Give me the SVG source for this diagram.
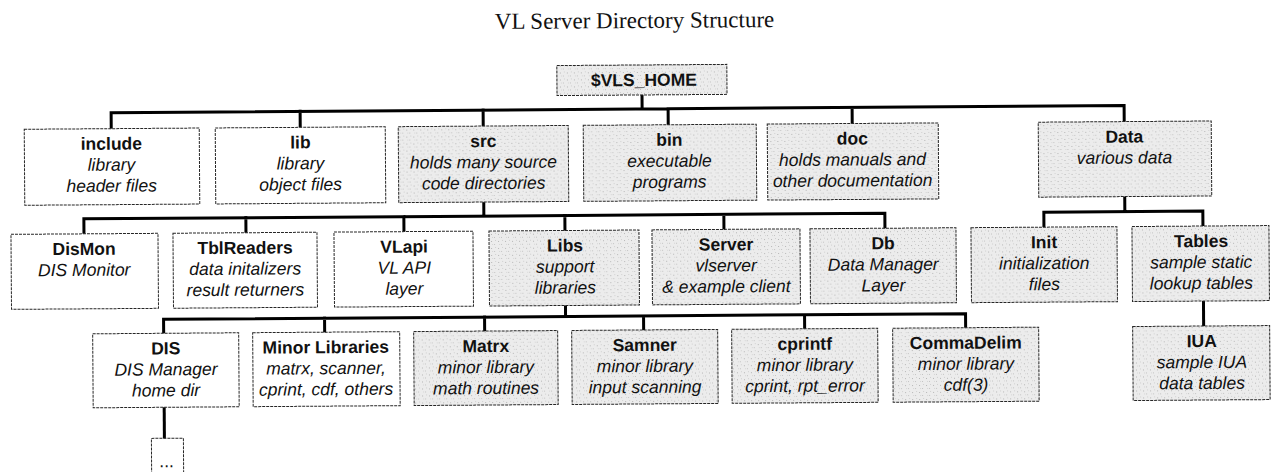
<svg xmlns="http://www.w3.org/2000/svg" width="1273" height="472" viewBox="0 0 1273 472">
  <defs>
    <!-- halftone-like stipple for the shaded directories -->
    <pattern id="stipple" width="7" height="7" patternUnits="userSpaceOnUse">
      <rect width="7" height="7" fill="#ececec"/>
      <rect x="1" y="2" width="1" height="1" fill="#b5b5b5"/>
      <rect x="4" y="5" width="1" height="1" fill="#c2c2c2"/>
      <rect x="5" y="1" width="1" height="1" fill="#cfcfcf"/>
      <rect x="2" y="5" width="1" height="1" fill="#d5d5d5"/>
    </pattern>
    <style>
      .title { font-family: "Liberation Serif", "Times New Roman", serif; font-size: 23px; fill: #111; }
      .box { stroke: #262626; stroke-width: 1; stroke-dasharray: 3 1; }
      .plain { fill: #ffffff; }
      .shade { fill: url(#stipple); }
      .name { font-family: "Liberation Sans", Arial, sans-serif; font-weight: bold; font-size: 17.5px; fill: #111; text-anchor: middle; }
      .desc { font-family: "Liberation Sans", Arial, sans-serif; font-style: italic; font-size: 17.5px; fill: #111; text-anchor: middle; }
      .wire { fill: none; stroke: #000; stroke-width: 3; stroke-linejoin: miter; stroke-linecap: square; }
    </style>
  </defs>

  <rect width="1273" height="472" fill="#ffffff"/>

  <g transform="rotate(-0.4 636 236)">
    <text class="title" x="636" y="28" text-anchor="middle">VL Server Directory Structure</text>

    <!-- tree connectors -->
    <g id="connectors">
      <path class="wire" d="M643 95 V109 M112 125 V109 H1125 V125 M301 109 V125 M484 109 V125 M669 109 V125 M853 109 V125"/>
      <path class="wire" d="M484 201 V215 M84 230 V215 H885 V230 M246 215 V230 M404 215 V230 M565 215 V230 M724 215 V230"/>
      <path class="wire" d="M1125 200 V215 M1044 230 V215 H1203 V230"/>
      <path class="wire" d="M565 305 V316 M163 330 V316 H965 V330 M324 316 V330 M484 316 V330 M643 316 V330 M804 316 V330"/>
      <path class="wire" d="M1203 305 V330"/>
      <path class="wire" d="M163 404 V435"/>
    </g>

    <g id="vls_home">
      <rect class="box shade" x="558" y="65" width="170" height="30"/>
      <text class="name" x="645" y="86">$VLS_HOME</text>
    </g>

    <!-- first level -->
    <g id="include">
      <rect class="box plain" x="25" y="125" width="175" height="76"/>
      <text class="name" x="112" y="146">include</text>
      <text class="desc" x="112" y="167">library</text>
      <text class="desc" x="112" y="188">header files</text>
    </g>
    <g id="lib">
      <rect class="box plain" x="216" y="125" width="170" height="76"/>
      <text class="name" x="301" y="146">lib</text>
      <text class="desc" x="301" y="167">library</text>
      <text class="desc" x="301" y="188">object files</text>
    </g>
    <g id="src">
      <rect class="box shade" x="399" y="125" width="170" height="76"/>
      <text class="name" x="484" y="146">src</text>
      <text class="desc" x="484" y="167">holds many source</text>
      <text class="desc" x="484" y="188">code directories</text>
    </g>
    <g id="bin">
      <rect class="box shade" x="584" y="125" width="173" height="76"/>
      <text class="name" x="670" y="146">bin</text>
      <text class="desc" x="670" y="167">executable</text>
      <text class="desc" x="670" y="188">programs</text>
    </g>
    <g id="doc">
      <rect class="box shade" x="768" y="125" width="171" height="76"/>
      <text class="name" x="853" y="146">doc</text>
      <text class="desc" x="853" y="167">holds manuals and</text>
      <text class="desc" x="853" y="188">other documentation</text>
    </g>
    <g id="data">
      <rect class="box shade" x="1039" y="125" width="173" height="75"/>
      <text class="name" x="1125" y="146">Data</text>
      <text class="desc" x="1125" y="167">various data</text>
    </g>

    <!-- second level -->
    <g id="dismon">
      <rect class="box plain" x="11" y="230" width="147" height="75"/>
      <text class="name" x="84" y="251">DisMon</text>
      <text class="desc" x="84" y="272">DIS Monitor</text>
    </g>
    <g id="tblreaders">
      <rect class="box plain" x="173" y="230" width="144" height="75"/>
      <text class="name" x="245" y="251">TblReaders</text>
      <text class="desc" x="245" y="272">data initalizers</text>
      <text class="desc" x="245" y="293">result returners</text>
    </g>
    <g id="vlapi">
      <rect class="box plain" x="334" y="230" width="139" height="75"/>
      <text class="name" x="404" y="251">VLapi</text>
      <text class="desc" x="404" y="272">VL API</text>
      <text class="desc" x="404" y="293">layer</text>
    </g>
    <g id="libs">
      <rect class="box shade" x="489" y="230" width="150" height="75"/>
      <text class="name" x="565" y="251">Libs</text>
      <text class="desc" x="565" y="272">support</text>
      <text class="desc" x="565" y="293">libraries</text>
    </g>
    <g id="server">
      <rect class="box shade" x="652" y="230" width="148" height="75"/>
      <text class="name" x="726" y="251">Server</text>
      <text class="desc" x="726" y="272">vlserver</text>
      <text class="desc" x="726" y="293">&amp; example client</text>
    </g>
    <g id="db">
      <rect class="box shade" x="810" y="230" width="146" height="75"/>
      <text class="name" x="883" y="251">Db</text>
      <text class="desc" x="883" y="272">Data Manager</text>
      <text class="desc" x="883" y="293">Layer</text>
    </g>
    <g id="init">
      <rect class="box shade" x="971" y="230" width="146" height="75"/>
      <text class="name" x="1044" y="251">Init</text>
      <text class="desc" x="1044" y="272">initialization</text>
      <text class="desc" x="1044" y="293">files</text>
    </g>
    <g id="tables">
      <rect class="box shade" x="1132" y="230" width="137" height="75"/>
      <text class="name" x="1201" y="251">Tables</text>
      <text class="desc" x="1201" y="272">sample static</text>
      <text class="desc" x="1201" y="293">lookup tables</text>
    </g>

    <!-- third level -->
    <g id="dis">
      <rect class="box plain" x="92" y="330" width="146" height="74"/>
      <text class="name" x="165" y="351">DIS</text>
      <text class="desc" x="165" y="372">DIS Manager</text>
      <text class="desc" x="165" y="393">home dir</text>
    </g>
    <g id="minor_libraries">
      <rect class="box plain" x="252" y="330" width="147" height="74"/>
      <text class="name" x="325" y="351">Minor Libraries</text>
      <text class="desc" x="325" y="372">matrx, scanner,</text>
      <text class="desc" x="325" y="393">cprint, cdf, others</text>
    </g>
    <g id="matrx">
      <rect class="box shade" x="413" y="330" width="144" height="74"/>
      <text class="name" x="485" y="351">Matrx</text>
      <text class="desc" x="485" y="372">minor library</text>
      <text class="desc" x="485" y="393">math routines</text>
    </g>
    <g id="samner">
      <rect class="box shade" x="571" y="330" width="146" height="74"/>
      <text class="name" x="644" y="351">Samner</text>
      <text class="desc" x="644" y="372">minor library</text>
      <text class="desc" x="644" y="393">input scanning</text>
    </g>
    <g id="cprintf">
      <rect class="box shade" x="731" y="330" width="146" height="74"/>
      <text class="name" x="804" y="351">cprintf</text>
      <text class="desc" x="804" y="372">minor library</text>
      <text class="desc" x="804" y="393">cprint, rpt_error</text>
    </g>
    <g id="commadelim">
      <rect class="box shade" x="892" y="330" width="146" height="74"/>
      <text class="name" x="965" y="351">CommaDelim</text>
      <text class="desc" x="965" y="372">minor library</text>
      <text class="desc" x="965" y="393">cdf(3)</text>
    </g>
    <g id="iua">
      <rect class="box shade" x="1132" y="330" width="137" height="74"/>
      <text class="name" x="1201" y="351">IUA</text>
      <text class="desc" x="1201" y="372">sample IUA</text>
      <text class="desc" x="1201" y="393">data tables</text>
    </g>

    <!-- truncated subtree under DIS -->
    <g id="dis_more">
      <rect class="box plain" x="150" y="435" width="32" height="50"/>
      <text class="desc" x="165" y="464" style="font-style:normal">...</text>
    </g>
  </g>
</svg>
